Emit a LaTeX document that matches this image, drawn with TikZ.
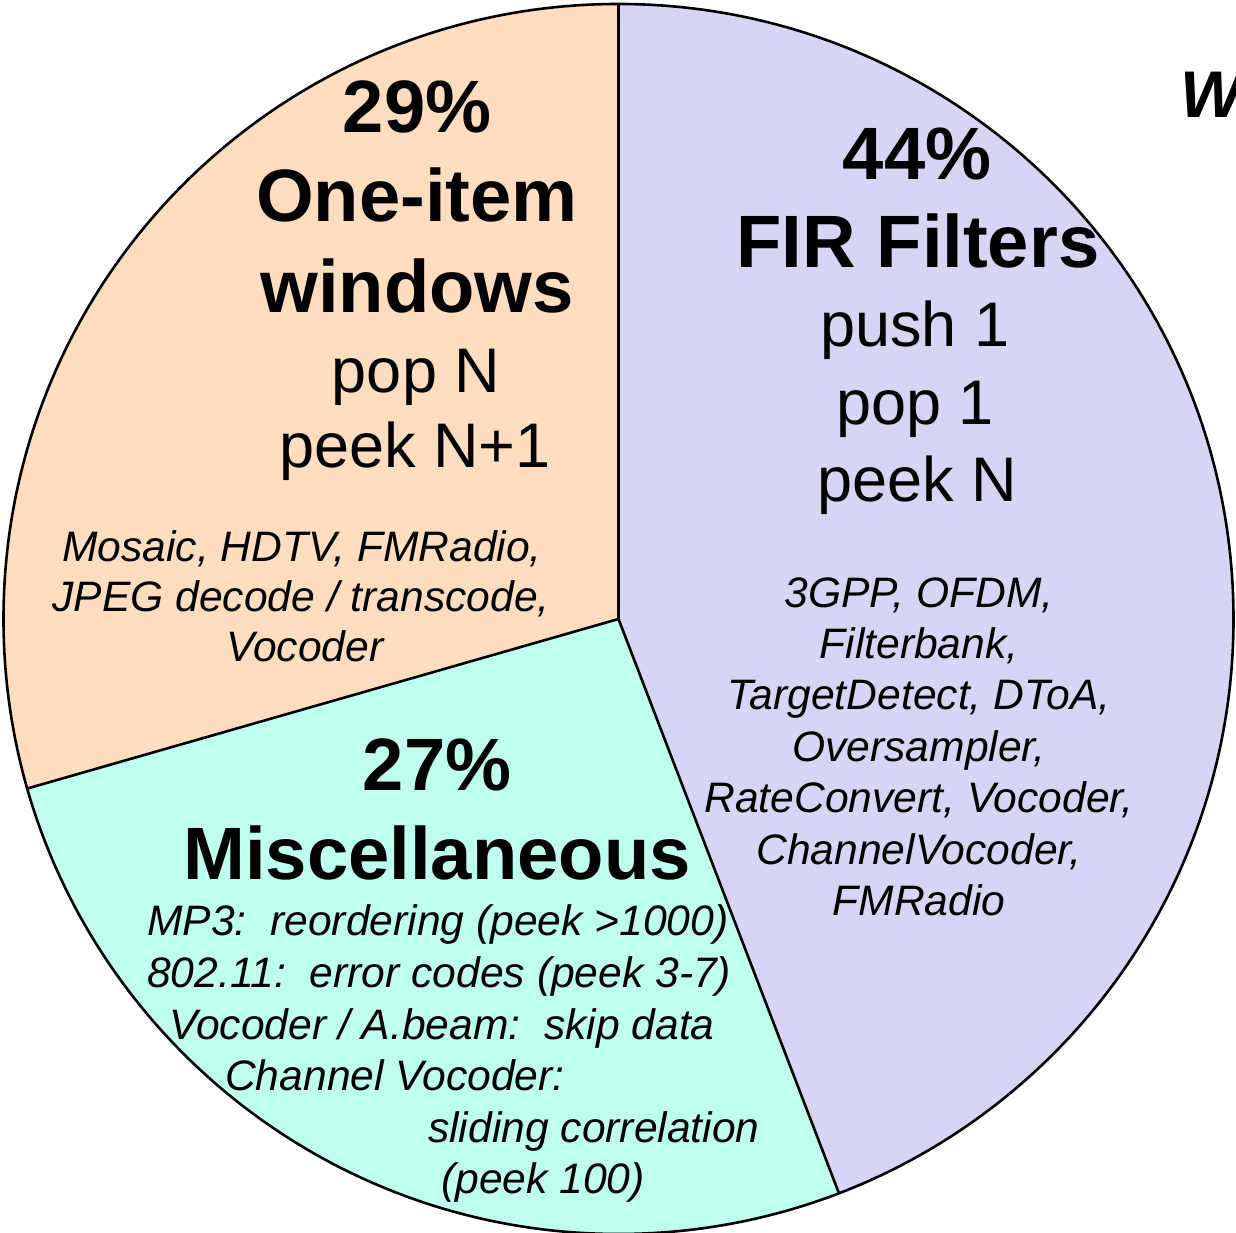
\documentclass[tikz,border=0pt]{standalone}
\usepackage{fontspec}
\setmainfont{Liberation Sans}
\definecolor{onecol}{RGB}{255,221,190}
\definecolor{fircol}{RGB}{214,214,244}
\definecolor{misccol}{RGB}{190,255,238}
\begin{document}
\begin{tikzpicture}[x=1pt,y=1pt,
  hd/.style={font=\fontsize{74.2}{88}\selectfont\bfseries, inner sep=0pt, anchor=base},
  op/.style={font=\fontsize{63}{75}\selectfont, inner sep=0pt, anchor=base},
  ex/.style={font=\fontsize{42.6}{51}\selectfont\itshape, inner sep=0pt, anchor=base},
  exl/.style={ex, anchor=base west},
  rim/.style={line width=2.6pt, line join=round}]
\useasboundingbox (0,0) rectangle (1236,1233);

% pie centre and the three slice boundaries
\coordinate (c) at (618.5,614);
\path (c) ++(90:615) coordinate (btop);
\path (c) ++(-69:615) coordinate (bbot);
\path (c) ++(-164:615) coordinate (bleft);

% slices
\fill[fircol]  (c) -- (btop)  arc[start angle=90,   end angle=-69,  radius=615] -- cycle;
\fill[misccol] (c) -- (bbot)  arc[start angle=-69,  end angle=-164, radius=615] -- cycle;
\fill[onecol]  (c) -- (bleft) arc[start angle=-164, end angle=-270, radius=615] -- cycle;

% outline and separators
\draw[rim] (c) circle[radius=615];
\draw[rim] (c) -- (btop);
\draw[rim] (c) -- (bbot);
\draw[rim] (c) -- (bleft);

% one-item windows slice
\node[hd] (oneP) at (417,1100) {29\%};
\node[hd] (oneA) at (417,1011) {One-item};
\node[hd] (oneB) at (417,920)  {windows};
\node[op] (oneC) at (416,840)  {pop N};
\node[op] (oneD) at (415,765)  {peek N+1};
\node[ex] (oneE) at (302,671)  {Mosaic, HDTV, FMRadio,};
\node[ex] (oneF) at (301,621)  {JPEG decode / transcode,};
\node[ex] (oneG) at (305,571)  {Vocoder};

% FIR filters slice
\node[hd] (firP) at (917,1053) {44\%};
\node[hd] (firA) at (918,965)  {FIR Filters};
\node[op] (firB) at (915,886)  {push 1};
\node[op] (firC) at (915,808)  {pop 1};
\node[op] (firD) at (917,731)  {peek N};
\node[ex] (firE) at (919,625)  {3GPP, OFDM,};
\node[ex] (firF) at (919,574)  {Filterbank,};
\node[ex] (firG) at (919,523)  {TargetDetect, DToA,};
\node[ex] (firH) at (919,471)  {Oversampler,};
\node[ex] (firI) at (919,420)  {RateConvert, Vocoder,};
\node[ex] (firJ) at (919,368)  {ChannelVocoder,};
\node[ex] (firK) at (919,317)  {FMRadio};

% miscellaneous slice
\node[hd] (miscP) at (437,442) {27\%};
\node[hd] (miscA) at (437,353) {Miscellaneous};
\node[exl] (miscB) at (147,297) {MP3:\ \ reordering (peek >1000)};
\node[exl] (miscC) at (147,245) {802.11:\ \ error codes (peek 3-7)};
\node[exl] (miscD) at (169,193) {Vocoder / A.beam:\ \ skip data};
\node[exl] (miscE) at (225,142) {Channel Vocoder:};
\node[exl] (miscF) at (428,90)  {sliding correlation};
\node[exl] (miscG) at (441,39)  {(peek 100)};

% start of the title at the right edge
\node[font=\fontsize{66}{70}\selectfont\bfseries\itshape, inner sep=0pt, anchor=base west] (ttl) at (1180,1115) {W};
\end{tikzpicture}
\end{document}
